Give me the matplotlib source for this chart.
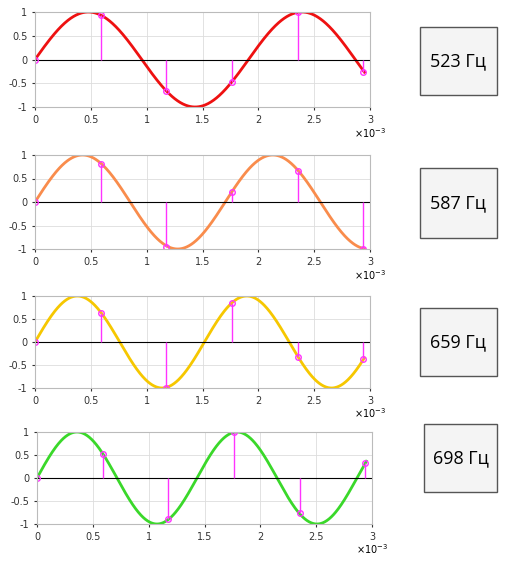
import numpy as np
import matplotlib.pyplot as plt
from matplotlib.patches import FancyBboxPatch

freqs = [523, 587, 659, 698]
labels = ["523 Гц", "587 Гц", "659 Гц", "698 Гц"]
colors = ["#ee1111", "#f98c4c", "#f6c700", "#3ad82a"]
t_samples = [0, 0.000588, 0.001176, 0.001765, 0.002353, 0.002941]
samples = [
    [0, 0.94, -0.66, -0.48, 0.99, -0.27],
    [0, 0.81, -0.95, 0.22, 0.66, -0.99],
    [0, 0.64, -0.99, 0.84, -0.33, -0.37],
    [0, 0.53, -0.90, 0.99, -0.77, 0.33],
]

W, H = 507, 562
fig = plt.figure(figsize=(W / 100, H / 100), dpi=100)
ax_pix = [(35, 12, 370, 107), (35, 155, 370, 249), (35, 296, 370, 388), (37, 432, 372, 524)]
box_pix = [(420, 27, 497, 95), (420, 168, 497, 238), (420, 308, 497, 376), (424, 424, 497, 492)]

for i in range(4):
    x0, y0, x1, y1 = ax_pix[i]
    ax = fig.add_axes([x0 / W, 1 - y1 / H, (x1 - x0) / W, (y1 - y0) / H])
    t = np.linspace(0, 0.00295, 600)
    ax.plot(t, np.sin(2 * np.pi * freqs[i] * t), color=colors[i], lw=2)
    ax.axhline(0, color="black", lw=0.8)
    ax.vlines(t_samples, 0, samples[i], color="#ff33ff", lw=1)
    ax.plot(t_samples, samples[i], "o", mfc="none", mec="#ff33ff", ms=4)
    ax.set_xlim(0, 0.003)
    ax.set_ylim(-1, 1)
    ax.set_xticks(np.arange(0, 0.0031, 0.0005))
    ax.set_yticks([-1, -0.5, 0, 0.5, 1])
    ax.set_xticklabels(["0", "0.5", "1", "1.5", "2", "2.5", "3"])
    ax.set_yticklabels(["-1", "-0.5", "0", "0.5", "1"])
    ax.tick_params(labelsize=7, length=2, colors="#333333")
    ax.grid(True, color="#dddddd", lw=0.6)
    for s in ax.spines.values():
        s.set_color("#bbbbbb")
    ax.text(1.0, -0.2, r"$\times10^{-3}$", transform=ax.transAxes, fontsize=7,
            ha="center", va="top")

    bx0, by0, bx1, by1 = box_pix[i]
    fig.patches.append(FancyBboxPatch((bx0 / W, 1 - by1 / H), (bx1 - bx0) / W, (by1 - by0) / H,
                                      boxstyle="square,pad=0", transform=fig.transFigure,
                                      fc="#f4f4f4", ec="#555555", lw=1))
    fig.text((bx0 + bx1) / 2 / W, 1 - (by0 + by1) / 2 / H, labels[i], fontsize=13,
             ha="center", va="center", family="Open Sans")

fig.savefig("out.png", dpi=100)
